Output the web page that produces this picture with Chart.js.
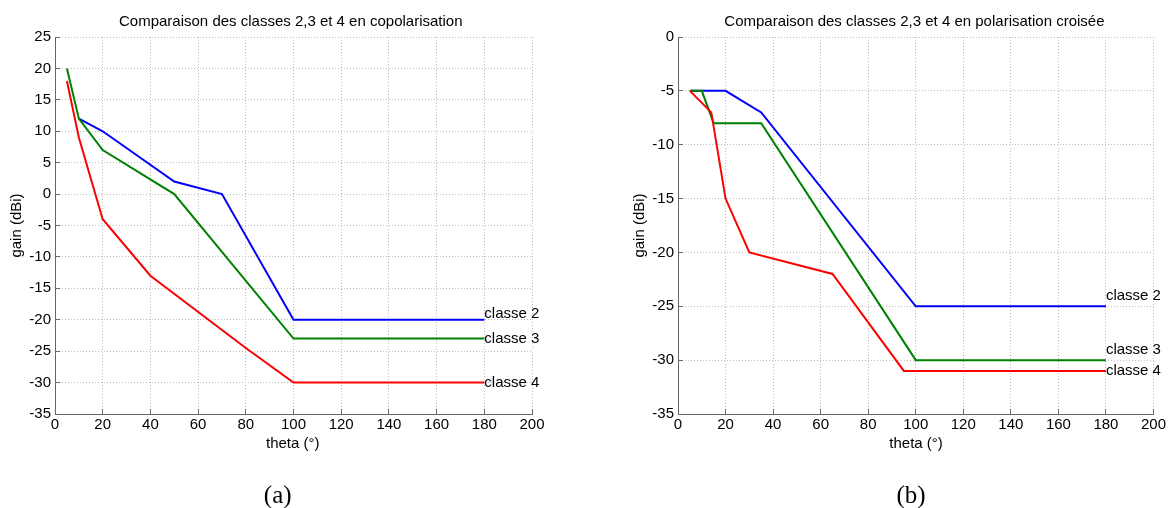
<!DOCTYPE html>
<html><head><meta charset="utf-8">
<script src="https://cdn.jsdelivr.net/npm/chart.js@4.4.1/dist/chart.umd.min.js"></script>
<style>
html,body{margin:0;padding:0;background:#fff;}
body{width:1173px;height:508px;position:relative;overflow:hidden;}
canvas{position:absolute;top:0;}
#ca{left:0}
#cb{left:590px}
</style></head><body>
<canvas id="ca" width="590" height="508"></canvas>
<canvas id="cb" width="583" height="508"></canvas>
<script>
// ---------- data ----------
const seriesNames = ['classe 2', 'classe 3', 'classe 4'];
// (a) copolarisation
const thetaA2 = [10, 20, 50, 70, 100, 180];
const gainA2  = [12, 10, 2, 0, -20, -20];
const thetaA3 = [5, 10, 20, 50, 100, 180];
const gainA3  = [20, 12, 7, 0, -23, -23];
const thetaA4 = [5, 10, 20, 40, 80, 100, 180];
const gainA4  = [18, 9, -4, -13, -24.5, -30, -30];
// (b) polarisation croisée
const thetaB2 = [5, 20, 35, 100, 180];
const gainB2  = [-5, -5, -7, -25, -25];
const thetaB3 = [5, 10, 15, 35, 100, 180];
const gainB3  = [-5, -5, -8, -8, -30, -30];
const thetaB4 = [5, 14, 20, 30, 65, 95, 180];
const gainB4  = [-5, -7, -15, -20, -22, -31, -31];
// ticks
const xTicks  = [0, 20, 40, 60, 80, 100, 120, 140, 160, 180, 200];
const yTicksA = [-35, -30, -25, -20, -15, -10, -5, 0, 5, 10, 15, 20, 25];
const yTicksB = [-35, -30, -25, -20, -15, -10, -5, 0];
// texts
const titleA = 'Comparaison des classes 2,3 et 4 en copolarisation';
const titleB = 'Comparaison des classes 2,3 et 4 en polarisation croisée';
const xLabel = 'theta (°)';
const yLabel = 'gain (dBi)';
const captionA = '(a)';
const captionB = '(b)';

// ---------- helpers ----------
const colors = ['#0000ff', '#008000', '#ff0000'];
const SANS = '"Liberation Sans", Arial, sans-serif';
const SERIF = '"Liberation Serif", "Times New Roman", serif';

function pts(xs, ys) { return xs.map((x, i) => ({x: x, y: ys[i]})); }

const decorPlugin = {
  id: 'decor',
  afterDraw(chart, args, o) {
    const ctx = chart.ctx;
    const xs = chart.scales.x, ys = chart.scales.y;
    ctx.save();
    ctx.fillStyle = '#000';
    // title
    ctx.font = '15px ' + SANS;
    ctx.textAlign = 'left';
    ctx.textBaseline = 'alphabetic';
    ctx.fillText(o.title, o.titleX, o.titleY);
    // x label
    ctx.fillText(o.xLabel, o.xLabelX, o.xLabelY);
    // y label
    ctx.save();
    ctx.translate(o.yLabelX, o.yLabelY);
    ctx.rotate(-Math.PI / 2);
    ctx.textAlign = 'center';
    ctx.textBaseline = 'middle';
    ctx.fillText(o.yLabel, 0, 0);
    ctx.restore();
    // series labels
    ctx.textAlign = 'left';
    ctx.textBaseline = 'middle';
    o.labels.forEach(l => {
      ctx.fillText(l.text, xs.getPixelForValue(l.x), ys.getPixelForValue(l.y));
    });
    // caption
    ctx.font = '25px ' + SERIF;
    ctx.textAlign = 'center';
    ctx.textBaseline = 'alphabetic';
    ctx.fillText(o.caption, o.captionX, o.captionY);
    ctx.restore();
  }
};

function makeChart(id, series, yTicks, yAxisWidth, padRight, decor) {
  const datasets = series.map((s, i) => ({
    label: seriesNames[i],
    data: pts(s[0], s[1]),
    borderColor: colors[i],
    backgroundColor: colors[i],
    borderWidth: 2,
    pointRadius: 0,
    tension: 0,
    fill: false,
    order: 3 - i
  }));
  const gridCommon = {
    color: '#bdbdbd',
    lineWidth: 1,
    drawTicks: true,
    tickLength: -5,
    tickColor: '#666666',
    tickWidth: 1,
    tickBorderDash: []
  };
  const borderCommon = { display: true, color: '#666666', width: 1, dash: [1, 2] };
  return new Chart(document.getElementById(id), {
    type: 'line',
    data: { datasets: datasets },
    plugins: [decorPlugin],
    options: {
      responsive: false,
      animation: false,
      events: [],
      layout: { autoPadding: false, padding: { left: 0, top: 37, right: padRight, bottom: 64 } },
      scales: {
        x: {
          type: 'linear',
          min: xTicks[0], max: xTicks[xTicks.length - 1],
          afterBuildTicks: s => { s.ticks = xTicks.map(v => ({value: v})); },
          afterFit: s => { s.height = 30; },
          grid: gridCommon,
          border: borderCommon,
          ticks: { color: '#000', font: { family: SANS, size: 15 }, padding: 7, maxRotation: 0, autoSkip: false }
        },
        y: {
          type: 'linear',
          min: yTicks[0], max: yTicks[yTicks.length - 1],
          afterBuildTicks: s => { s.ticks = yTicks.map(v => ({value: v})); },
          afterFit: s => { s.width = yAxisWidth; },
          grid: gridCommon,
          border: borderCommon,
          ticks: { color: '#000', font: { family: SANS, size: 15 }, padding: 9, autoSkip: false }
        }
      },
      plugins: {
        legend: { display: false },
        tooltip: { enabled: false },
        title: { display: false },
        decor: decor
      }
    }
  });
}

makeChart('ca',
  [[thetaA2, gainA2], [thetaA3, gainA3], [thetaA4, gainA4]],
  yTicksA, 55, 58,
  {
    title: titleA, titleX: 119, titleY: 26,
    xLabel: xLabel, xLabelX: 266, xLabelY: 447.5,
    yLabel: yLabel, yLabelX: 16.5, yLabelY: 225.5,
    caption: captionA, captionX: 277.7, captionY: 503,
    labels: [
      {text: seriesNames[0], x: 180, y: -19},
      {text: seriesNames[1], x: 180, y: -23},
      {text: seriesNames[2], x: 180, y: -30}
    ]
  });

makeChart('cb',
  [[thetaB2, gainB2], [thetaB3, gainB3], [thetaB4, gainB4]],
  yTicksB, 88, 18,
  {
    title: titleB, titleX: 134.3, titleY: 26,
    xLabel: xLabel, xLabelX: 299.3, xLabelY: 447.5,
    yLabel: yLabel, yLabelX: 49.4, yLabelY: 225.5,
    caption: captionB, captionX: 321, captionY: 503,
    labels: [
      {text: seriesNames[0], x: 180, y: -24},
      {text: seriesNames[1], x: 180, y: -29},
      {text: seriesNames[2], x: 180, y: -31}
    ]
  });
</script>
</body></html>
